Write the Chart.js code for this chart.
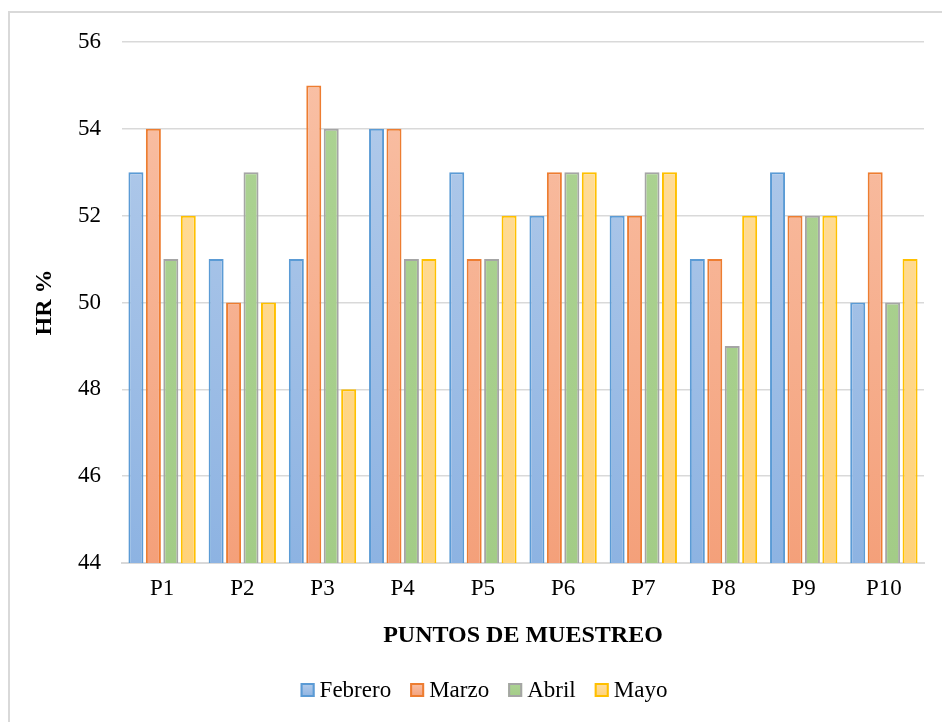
<!DOCTYPE html>
<html>
<head>
<meta charset="utf-8">
<script src="https://cdn.jsdelivr.net/npm/chart.js@4"></script>
<style>
  html, body { margin: 0; padding: 0; background: #fff; }
  #wrap { position: relative; width: 942px; height: 722px; overflow: hidden; }
  #frame { position: absolute; left: 8px; top: 11px; width: 1000px; height: 1000px;
           border-left: 2px solid #d9d9d9; border-top: 2px solid #d9d9d9; box-sizing: border-box; }
  canvas { position: absolute; left: 0; top: 0; }
</style>
</head>
<body>
<div id="wrap">
  <div id="frame"></div>
  <canvas id="c" width="942" height="722"></canvas>
</div>
<script>
// Sampling points and monthly relative humidity (%)
const puntos = ['P1', 'P2', 'P3', 'P4', 'P5', 'P6', 'P7', 'P8', 'P9', 'P10'];
const febrero = [53, 51, 51, 54, 53, 52, 52, 51, 53, 50];
const marzo   = [54, 50, 55, 54, 51, 53, 52, 51, 52, 53];
const abril   = [51, 53, 54, 51, 51, 53, 53, 49, 52, 50];
const mayo    = [52, 50, 48, 51, 52, 53, 53, 52, 52, 51];
const yTicks  = [44, 46, 48, 50, 52, 54, 56];

const FONT = '"Liberation Serif", "Times New Roman", serif';

// light-to-darker vertical fill for each series
function gradFill(top, bottom) {
  return (ctx) => {
    const area = ctx.chart.chartArea;
    if (!area) return bottom;
    const g = ctx.chart.ctx.createLinearGradient(0, area.top, 0, area.bottom);
    g.addColorStop(0, top);
    g.addColorStop(1, bottom);
    return g;
  };
}

function series(label, data, top, bottom, border) {
  return {
    label, data,
    backgroundColor: gradFill(top, bottom),
    borderColor: border,
    borderWidth: 2,
    legendTop: top, legendBottom: bottom,
    barPercentage: 0.86,
    categoryPercentage: 0.87
  };
}

// legend drawn under the axis title: small square, then the label
const bottomLegend = {
  id: 'bottomLegend',
  afterDraw(chart) {
    const ctx = chart.ctx;
    const ds = chart.data.datasets;
    const box = 14, gapText = 5, gapItem = 19, cy = 690, cx = 484;
    ctx.save();
    ctx.font = '23px ' + FONT;
    const widths = ds.map(d => ctx.measureText(d.label).width);
    let total = 0;
    widths.forEach((w, i) => { total += box + gapText + w + (i < ds.length - 1 ? gapItem : 0); });
    let x = cx - total / 2;
    ds.forEach((d, i) => {
      const g = ctx.createLinearGradient(0, cy - box / 2, 0, cy + box / 2);
      g.addColorStop(0, d.legendTop);
      g.addColorStop(1, d.legendBottom);
      ctx.fillStyle = g;
      ctx.fillRect(x, cy - box / 2, box, box);
      ctx.strokeStyle = d.borderColor;
      ctx.lineWidth = 2;
      ctx.strokeRect(x + 1, cy - box / 2 + 1, box - 2, box - 2);
      ctx.fillStyle = '#000';
      ctx.textBaseline = 'middle';
      ctx.textAlign = 'left';
      ctx.fillText(d.label, x + box + gapText, cy + 1);
      x += box + gapText + widths[i] + gapItem;
    });
    ctx.restore();
  }
};

new Chart(document.getElementById('c'), {
  type: 'bar',
  data: {
    labels: puntos,
    datasets: [
      series('Febrero', febrero, '#b6cdeb', '#8db3e2', '#5b9bd5'),
      series('Marzo',   marzo,   '#f9c2a8', '#f4a07a', '#ed7d31'),
      series('Abril',   abril,   '#add394', '#a3cc87', '#a5a5a5'),
      series('Mayo',    mayo,    '#ffdea0', '#ffd27a', '#ffc000')
    ]
  },
  options: {
    responsive: false,
    animation: false,
    layout: { padding: { left: 8, right: 18, top: 42, bottom: 67 } },
    plugins: {
      legend: { display: false },
      tooltip: { enabled: false }
    },
    scales: {
      x: {
        grid: { display: false, drawTicks: false },
        border: { display: true, color: '#d9d9d9', width: 2 },
        ticks: { color: '#000', font: { family: FONT, size: 23 }, padding: 12 },
        title: {
          display: true, text: 'PUNTOS DE MUESTREO', color: '#000',
          font: { family: FONT, size: 24, weight: 'bold' },
          padding: { top: 4, bottom: 5 }
        },
        afterFit(scale) { scale.height = 92; }
      },
      y: {
        min: 44, max: 56,
        afterBuildTicks(scale) { scale.ticks = yTicks.map(v => ({ value: v })); },
        grid: { color: '#d9d9d9', lineWidth: 1.5, drawTicks: false },
        border: { display: false },
        ticks: { color: '#000', font: { family: FONT, size: 23 }, padding: 21 },
        title: {
          display: true, text: 'HR %', color: '#000',
          font: { family: FONT, size: 24, weight: 'bold' },
          padding: { top: 22, bottom: 4 }
        },
        afterFit(scale) { scale.width = 114; }
      }
    }
  },
  plugins: [bottomLegend]
});
</script>
</body>
</html>
